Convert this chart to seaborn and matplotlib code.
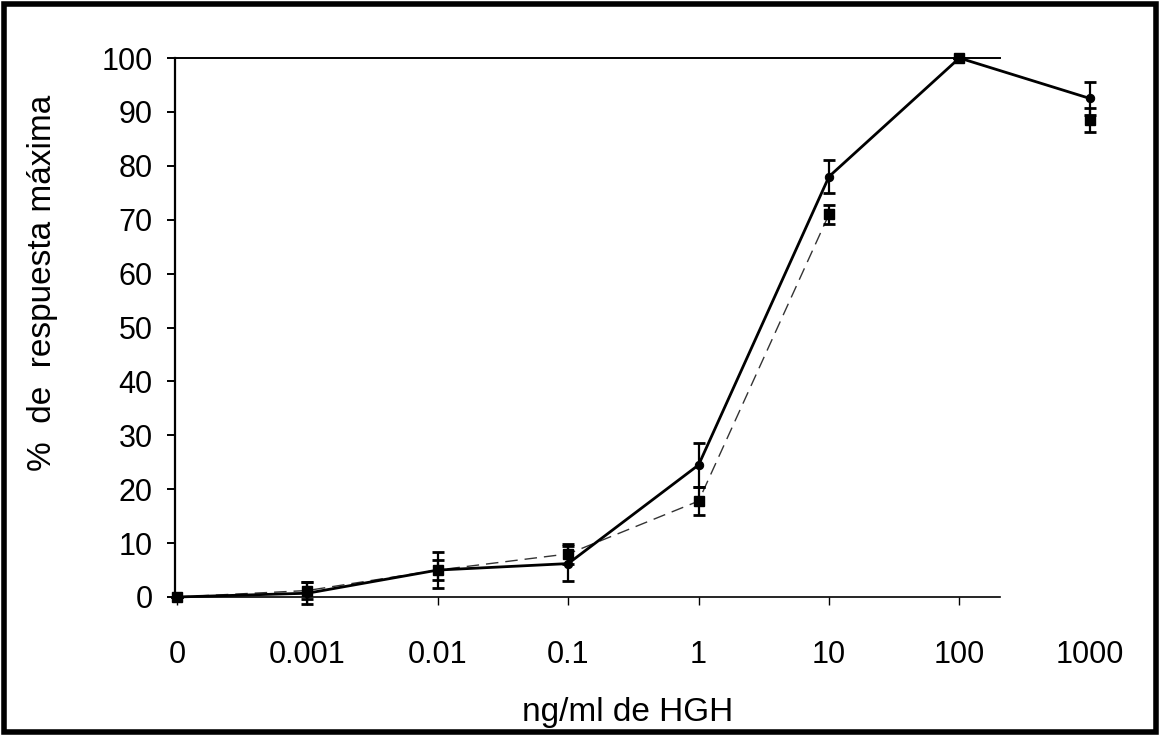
import numpy as np
import pandas as pd
import matplotlib
matplotlib.use("Agg")
import matplotlib.pyplot as plt
import seaborn as sns
from matplotlib.patches import Rectangle

# values
conc_labels = ['0', '0.001', '0.01', '0.1', '1', '10', '100', '1000']
resp_circle = [0, 0.7, 5, 6.2, 24.5, 78, 100, 92.5]
err_circle = [0, 2.0, 3.3, 3.2, 4.0, 3.0, 0, 3.0]
resp_square = [0, 1.2, 5, 8, 17.8, 71, 100, 88.5]
err_square = [0, 1.5, 1.8, 1.8, 2.6, 1.8, 0, 2.2]

pos = np.arange(len(conc_labels))
df = pd.DataFrame({'pos': pos, 'circ': resp_circle, 'sq': resp_square})

sns.set_style("white")
plt.rcParams['font.family'] = ['Liberation Sans', 'DejaVu Sans']
for k in ['text.color', 'axes.labelcolor', 'xtick.color', 'ytick.color']:
    plt.rcParams[k] = 'black'

fig = plt.figure(figsize=(11.64, 7.36), dpi=100)
W, H = 1164, 736
# plot area: left 175px, bottom y=597, top y=58
ax = fig.add_axes([175 / W, (H - 597) / H, (1140 - 175) / W, (597 - 58) / H])

step = 130.4
x0 = -2 / step
x_end = (1000 - 177) / step

# dashed series (squares) -- in the scan the line only shows up to 10
sns.lineplot(data=df.iloc[:6], x='pos', y='sq', ax=ax, color='#333333',
             linewidth=1.0, dashes=False, linestyle=(0, (9, 5)), zorder=2)
# solid series (circles)
sns.lineplot(data=df, x='pos', y='circ', ax=ax, color='black', linewidth=2.0,
             marker='o', markersize=6, markeredgecolor='black', zorder=3)
ax.errorbar(pos, resp_circle, yerr=err_circle, fmt='none', ecolor='black',
            elinewidth=1.6, capsize=4, capthick=2, zorder=3, clip_on=False)
ax.errorbar(pos, resp_square, yerr=err_square, fmt='none', ecolor='black',
            elinewidth=1.6, capsize=4, capthick=2, zorder=3, clip_on=False)
ax.plot(pos, resp_square, linestyle='none', marker='s', markersize=7.5,
        color='black', zorder=4, clip_on=False)
for ln in ax.lines:
    ln.set_clip_on(False)

ax.set_xlim(x0, (1140 - 177) / step)
ax.set_ylim(0, 100)
ax.set_yticks(range(0, 101, 10))
ax.set_xticks(pos)
ax.set_xticklabels(conc_labels)

ax.spines['right'].set_visible(False)
for s in ['left', 'top', 'bottom']:
    ax.spines[s].set_color('black')
ax.spines['left'].set_linewidth(1.6)
ax.spines['bottom'].set_linewidth(1.2)
ax.spines['top'].set_linewidth(1.4)
ax.spines['bottom'].set_bounds(x0, x_end)
ax.spines['top'].set_bounds(x0, x_end)

ax.tick_params(axis='y', direction='out', length=6, width=1.4, color='black',
               labelsize=22, pad=10, left=True)
ax.tick_params(axis='x', direction='out', length=6, width=1.0, color='black',
               labelsize=22, pad=25, bottom=True)
ax.xaxis.get_major_ticks()[-1].tick1line.set_visible(False)

ax.set_xlabel('ng/ml de HGH', fontsize=24)
ax.set_ylabel('%  de  respuesta máxima', fontsize=24)
ax.xaxis.set_label_coords((628 - 175) / 965, (597 - 697) / 539)
ax.yaxis.set_label_coords((58 - 175) / 965, (597 - 283) / 539)

fig.patches.append(Rectangle((4 / W, 4 / H), (W - 12) / W, (H - 8) / H,
                             transform=fig.transFigure, fill=False,
                             edgecolor='black', linewidth=4))

fig.savefig('out.png', dpi=100)
